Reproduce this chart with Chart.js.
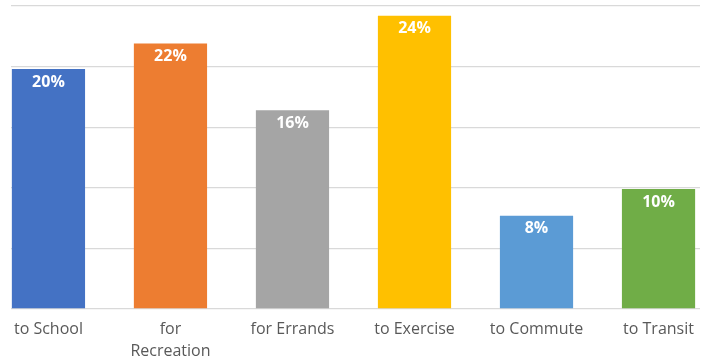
<!DOCTYPE html>
<html>
<head>
<meta charset="utf-8">
<script src="https://cdn.jsdelivr.net/npm/chart.js@4"></script>
<style>
html,body{margin:0;padding:0;background:#fff;}
#wrap{position:relative;width:710px;height:362px;}
</style>
</head>
<body>
<div id="wrap"><canvas id="c" width="710" height="362"></canvas></div>
<script>
const categories = ['to School', ['for', 'Recreation'], 'for Errands', 'to Exercise', 'to Commute', 'to Transit'];
const values = [19.8, 21.9, 16.4, 24.2, 7.7, 9.9];
const barColors = ['#4472C4', '#ED7D31', '#A5A5A5', '#FFC000', '#5B9BD5', '#70AD47'];
const yTicks = [0, 5, 10, 15, 20, 25];

const labelPlugin = {
  id: 'barLabels',
  afterDatasetsDraw(chart) {
    const ctx = chart.ctx;
    const meta = chart.getDatasetMeta(0);
    ctx.save();
    ctx.fillStyle = '#ffffff';
    ctx.font = 'bold 16px "Open Sans", sans-serif';
    ctx.textAlign = 'center';
    ctx.textBaseline = 'middle';
    meta.data.forEach((bar, i) => {
      ctx.fillText(Math.round(values[i]) + '%', bar.x, bar.y + 13);
    });
    ctx.restore();
  }
};

new Chart(document.getElementById('c'), {
  type: 'bar',
  data: {
    datasets: [{
      data: values.map((v, i) => ({ x: i, y: v })),
      backgroundColor: barColors,
      borderWidth: 0,
      barPercentage: 0.6,
      categoryPercentage: 1.0
    }]
  },
  options: {
    responsive: false,
    animation: false,
    events: [],
    layout: { padding: { left: 11, right: 10, top: 6, bottom: 1 } },
    plugins: { legend: { display: false }, tooltip: { enabled: false } },
    scales: {
      x: {
        type: 'linear',
        offset: false,
        min: -0.307,
        max: 5.34,
        grid: { display: false, drawTicks: false, offset: false },
        border: { display: false },
        afterBuildTicks: s => { s.ticks = categories.map((c, i) => ({ value: i })); },
        afterFit: s => { s.height = 52; },
        ticks: {
          autoSkip: false,
          maxRotation: 0,
          padding: 10,
          color: '#595959',
          font: { family: '"Open Sans", sans-serif', size: 16, lineHeight: 1.35 },
          callback: v => categories[v]
        }
      },
      y: {
        min: 0,
        max: 25,
        afterBuildTicks: s => { s.ticks = yTicks.map(v => ({ value: v })); },
        ticks: { display: false },
        grid: { color: '#d9d9d9', lineWidth: 1.3, drawTicks: false },
        border: { display: false }
      }
    }
  },
  plugins: [labelPlugin]
});
</script>
</body>
</html>
